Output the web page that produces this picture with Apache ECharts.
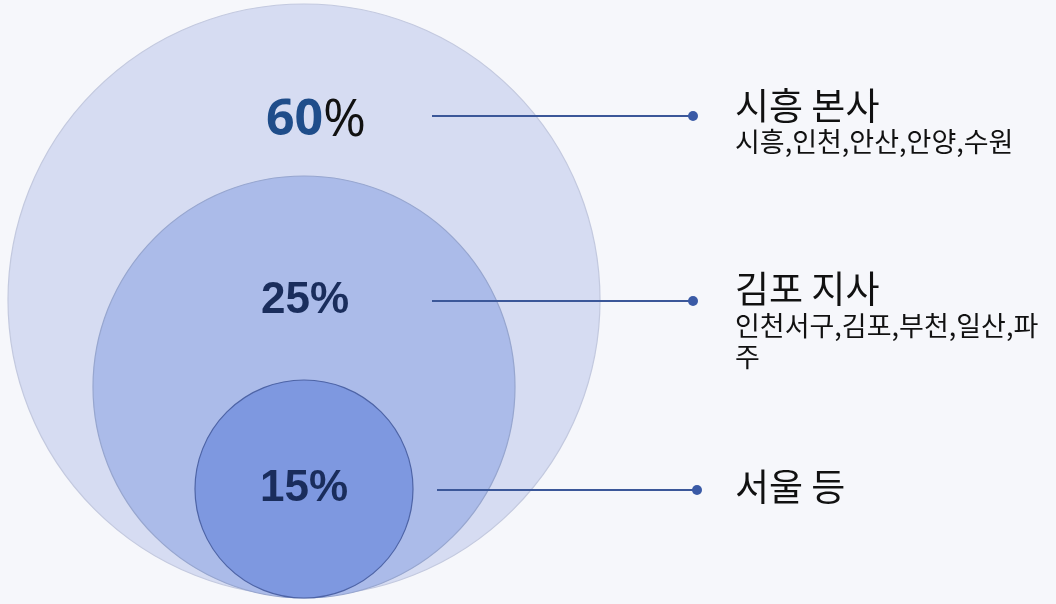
<!DOCTYPE html>
<html><head><meta charset="utf-8">
<script src="https://cdn.jsdelivr.net/npm/echarts@6/dist/echarts.min.js"></script>
<style>html,body{margin:0;padding:0;background:#f6f7fb}#c{width:1056px;height:604px}</style>
</head><body><div id="c"></div>
<script>
// data
const categories = ['시흥 본사', '김포 지사', '서울 등'];
const shares = [60, 25, 15];
const regions = ['시흥,인천,안산,안양,수원', '인천서구,김포,부천,일산,파주', ''];

// layout (axis units = pixels)
const circles = [
  { cx: 304, cy: 300, r: 296, fill: '#d6dcf2', stroke: '#c3c9df' },
  { cx: 304, cy: 387, r: 211, fill: '#abbbe9', stroke: '#97a6cf' },
  { cx: 304, cy: 489, r: 109, fill: '#7e98e0', stroke: '#4e64a6' }
];
const pctPos = [[316, 121], [305, 301], [304, 489]];
const leader = [[432, 693, 116], [432, 693, 301], [437, 697, 490]];
const textX = 735;
const titleY = [106, 289, 487];
const detailY = [126, 310];

const chart = echarts.init(document.getElementById('c'));
const KR = '"Noto Sans CJK KR", "Noto Sans", sans-serif';

function renderItem(params, api) {
  const i = api.value(0);
  const v = api.value(1);
  const c = circles[i];
  const ctr = api.coord([c.cx, c.cy]);
  const r = api.size([c.r, 0])[0];
  const children = [];
  children.push({
    type: 'circle', shape: { cx: ctr[0], cy: ctr[1], r: r },
    style: { fill: c.fill, stroke: c.stroke, lineWidth: 1.2 }
  });
  const p = api.coord(pctPos[i]);
  if (i === 0) {
    children.push({
      type: 'text',
      style: {
        x: p[0], y: p[1], align: 'center', verticalAlign: 'middle',
        text: '{a|' + v + '}{b|%}',
        rich: {
          a: { fontSize: 50, fontWeight: 'bold', fill: '#1f4d8a', fontFamily: '"Open Sans", "Noto Sans", sans-serif' },
          b: { fontSize: 52, fontWeight: 'normal', fill: '#111', fontFamily: '"Open Sans", "Noto Sans", sans-serif' }
        }
      }
    });
  } else {
    children.push({
      type: 'text',
      style: {
        x: p[0], y: p[1], align: 'center', verticalAlign: 'middle',
        text: v + '%', fontSize: 44, fontWeight: 'bold', fill: '#1a2d5c',
        fontFamily: '"Liberation Sans", Arial, sans-serif'
      }
    });
  }
  const L = leader[i];
  const a = api.coord([L[0], L[2]]);
  const b = api.coord([L[1], L[2]]);
  children.push({
    type: 'line', shape: { x1: a[0], y1: a[1], x2: b[0], y2: b[1] },
    style: { stroke: '#3b5799', lineWidth: 2 }
  });
  children.push({
    type: 'circle', shape: { cx: b[0], cy: b[1], r: 5 },
    style: { fill: '#3a5aa6' }
  });
  const t = api.coord([textX, titleY[i]]);
  children.push({
    type: 'text',
    style: {
      x: t[0], y: t[1], align: 'left', verticalAlign: 'middle',
      text: categories[i], fontSize: 37, fill: '#111', fontFamily: KR
    }
  });
  if (regions[i]) {
    const d = api.coord([textX, detailY[i]]);
    children.push({
      type: 'text',
      style: {
        x: d[0], y: d[1], align: 'left', verticalAlign: 'top',
        text: regions[i], fontSize: 27, lineHeight: 31, fill: '#111', fontFamily: KR,
        width: 336, overflow: 'break'
      }
    });
  }
  return { type: 'group', children: children };
}

chart.setOption({
  backgroundColor: '#f6f7fb',
  animation: false,
  grid: { left: 0, right: 0, top: 0, bottom: 0 },
  xAxis: { type: 'value', min: 0, max: 1056, show: false },
  yAxis: { type: 'value', min: 0, max: 604, inverse: true, show: false },
  series: [{
    type: 'custom',
    clip: false,
    renderItem: renderItem,
    data: shares.map((s, i) => [i, s])
  }]
});
</script></body></html>
